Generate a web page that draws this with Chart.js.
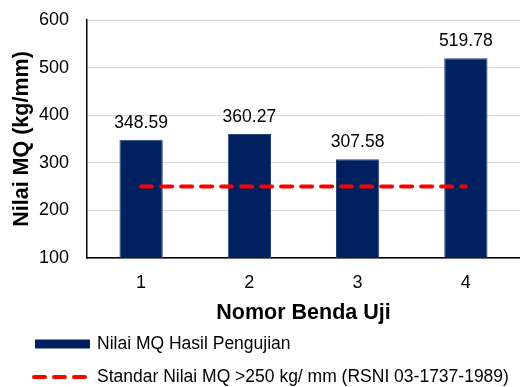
<!DOCTYPE html>
<html>
<head>
<meta charset="utf-8">
<script src="https://cdn.jsdelivr.net/npm/chart.js@4"></script>
<style>
  html, body { margin: 0; padding: 0; background: #fff; }
  #wrap { width: 520px; height: 387px; }
</style>
</head>
<body>
<div id="wrap"><canvas id="mqChart"></canvas></div>
<script>
const categories = ["1", "2", "3", "4"];
const mqValues = [348.59, 360.27, 307.58, 519.78];
const standardValues = [250, 250, 250, 250];
const yTicks = [100, 200, 300, 400, 500, 600];
const seriesNames = [
  "Nilai MQ Hasil Pengujian",
  "Standar Nilai MQ >250 kg/ mm (RSNI 03-1737-1989)"
];

const FONT = "'Liberation Sans', Arial, sans-serif";
const NAVY = "#002060";
const RED = "#ff0000";

// value labels above bars
const barLabels = {
  id: "barLabels",
  afterDatasetsDraw(chart) {
    const ctx = chart.ctx;
    const meta = chart.getDatasetMeta(0);
    ctx.save();
    ctx.font = "17.5px " + FONT;
    ctx.fillStyle = "#000";
    ctx.textAlign = "center";
    ctx.textBaseline = "alphabetic";
    meta.data.forEach((bar, i) => {
      ctx.fillText(mqValues[i].toFixed(2), bar.x, bar.y - 12);
    });
    ctx.restore();
  }
};

// stacked legend under the chart
const stackLegend = {
  id: "stackLegend",
  afterDraw(chart) {
    const ctx = chart.ctx;
    const sets = chart.data.datasets;
    ctx.save();
    ctx.font = "17.5px " + FONT;
    ctx.textBaseline = "middle";
    ctx.textAlign = "left";

    // bar item
    let y = 344;
    ctx.fillStyle = NAVY;
    ctx.fillRect(35, y - 4.5, 55, 9);
    ctx.fillStyle = "#000";
    ctx.fillText(sets[0].label, 97, y);

    // line item
    y = 377;
    ctx.strokeStyle = RED;
    ctx.lineWidth = 4;
    ctx.lineCap = "round";
    ctx.setLineDash([11, 9]);
    ctx.beginPath();
    ctx.moveTo(34, y);
    ctx.lineTo(86, y);
    ctx.stroke();
    ctx.setLineDash([]);
    ctx.fillText(sets[1].label, 97, y);
    ctx.restore();
  }
};

const ctx = document.getElementById("mqChart").getContext("2d");
new Chart(ctx, {
  data: {
    labels: categories,
    datasets: [
      {
        type: "bar",
        label: seriesNames[0],
        data: mqValues,
        backgroundColor: NAVY,
        borderColor: "#2d4478",
        borderWidth: 1,
        barPercentage: 0.4,
        categoryPercentage: 1,
        order: 1
      },
      {
        type: "line",
        label: seriesNames[1],
        data: standardValues,
        borderColor: RED,
        borderWidth: 4,
        borderDash: [11, 9],
        borderCapStyle: "round",
        pointRadius: 0,
        fill: false,
        order: 0
      }
    ]
  },
  options: {
    responsive: true,
    maintainAspectRatio: false,
    animation: false,
    layout: { padding: { left: 6, top: 20, right: 0, bottom: 61 } },
    plugins: {
      legend: { display: false },
      tooltip: { enabled: false }
    },
    scales: {
      x: {
        grid: { display: false, drawTicks: false },
        border: { color: "#000", width: 1.5 },
        ticks: { color: "#000", font: { family: FONT, size: 18 }, padding: 14 },
        title: {
          display: true,
          text: "Nomor Benda Uji",
          color: "#000",
          font: { family: FONT, size: 21.5, weight: "bold" },
          padding: { top: 9, bottom: 0 }
        },
        afterFit(axis) {
          axis.height = 68;
        }
      },
      y: {
        min: yTicks[0],
        max: yTicks[yTicks.length - 1],
        afterBuildTicks(axis) {
          axis.ticks = yTicks.map((v) => ({ value: v }));
        },
        grid: { color: "#d9d9d9", lineWidth: 1, drawTicks: false },
        border: { color: "#000", width: 1.5 },
        ticks: { color: "#000", font: { family: FONT, size: 18 }, padding: 18 },
        title: {
          display: true,
          text: "Nilai MQ (kg/mm)",
          color: "#000",
          font: { family: FONT, size: 21.5, weight: "bold" },
          padding: { top: 3, bottom: 4 }
        },
        afterFit(axis) {
          axis.width = 81;
          axis.paddingTop = 0;
          axis.paddingBottom = 0;
        }
      }
    }
  },
  plugins: [barLabels, stackLegend]
});
</script>
</body>
</html>
